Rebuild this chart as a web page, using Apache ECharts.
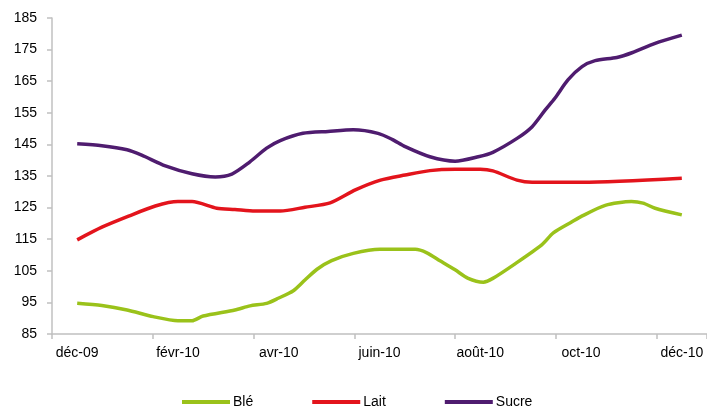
<!DOCTYPE html>
<html>
<head>
<meta charset="utf-8">
<script src="https://cdn.jsdelivr.net/npm/echarts@6/dist/echarts.min.js"></script>
<style>
html,body{margin:0;padding:0;background:#fff;}
#chart{width:707px;height:415px;}
</style>
</head>
<body>
<div id="chart"></div>
<script>
// Month labels (category axis, one per month)
const months = ['déc-09','janv-10','févr-10','mars-10','avr-10','mai-10','juin-10','juil-10','août-10','sept-10','oct-10','nov-10','déc-10'];
const seriesNames = ['Blé', 'Lait', 'Sucre'];
const yTicks = { min: 85, max: 185, step: 10 };

// [months since déc-09, index value]
const ble = [
  [0, 94.7], [0.49, 94.0], [0.99, 92.6], [1.51, 90.5], [2.0, 89.2], [2.28, 89.2], [2.5, 90.7],
  [3.13, 92.6], [3.43, 93.9], [3.76, 94.7], [3.99, 96.3], [4.29, 98.7], [4.52, 102.1], [4.76, 105.5],
  [5.05, 108.2], [5.48, 110.5], [6.01, 111.8], [6.71, 111.8], [6.94, 110.7], [7.2, 108.2], [7.5, 105.3],
  [7.76, 102.6], [8.06, 101.4], [8.25, 102.6], [8.69, 107.2], [9.22, 113.2], [9.45, 117.0], [9.82, 120.5],
  [9.98, 122.0], [10.48, 125.7], [11.0, 126.9], [11.23, 126.4], [11.47, 124.8], [12.0, 122.7]
];
const lait = [
  [0, 114.8], [0.49, 118.8], [1.02, 122.3], [1.55, 125.5], [2.0, 126.9], [2.28, 126.9], [2.77, 124.8],
  [3.13, 124.4], [3.53, 123.9], [4.03, 123.9], [4.52, 125.1], [5.02, 126.5], [5.52, 130.6], [6.02, 133.7],
  [6.51, 135.3], [7.0, 136.7], [7.5, 137.1], [8.0, 137.1], [8.25, 136.6], [8.73, 133.7], [9.03, 133.0],
  [9.68, 133.0], [10.02, 133.0], [12.0, 134.3]
];
const sucre = [
  [0, 145.2], [0.49, 144.6], [0.99, 143.3], [1.28, 141.6], [1.75, 138.2], [2.28, 135.7], [2.74, 134.7],
  [3.07, 135.6], [3.39, 139.0], [3.76, 143.8], [4.03, 146.2], [4.48, 148.5], [4.98, 149.1], [5.48, 149.6],
  [5.97, 148.5], [6.25, 146.6], [6.51, 144.3], [7.0, 141.1], [7.5, 139.7], [7.96, 141.1], [8.25, 142.5],
  [8.73, 146.9], [9.03, 150.6], [9.29, 155.9], [9.48, 159.6], [9.74, 165.4], [10.02, 169.6], [10.28, 171.5],
  [10.71, 172.5], [11.01, 174.0], [11.47, 177.0], [12.0, 179.6]
];

const colors = ['#9ac21a', '#e3141c', '#4f1c6f'];
const font = 'Liberation Sans, Arial, sans-serif';

const chart = echarts.init(document.getElementById('chart'), null, { renderer: 'canvas' });
chart.setOption({
  animation: false,
  backgroundColor: '#fff',
  color: colors,
  grid: { left: 52, right: 0, top: 18, bottom: 81, containLabel: false },
  legend: {
    data: seriesNames,
    left: 177,
    top: 390,
    icon: 'rect',
    itemWidth: 48,
    itemHeight: 4,
    itemGap: 59,
    textStyle: { fontFamily: font, fontSize: 14, color: '#000', padding: [0, 0, 0, -2] }
  },
  xAxis: [
    {
      type: 'value',
      min: -0.5,
      max: 12.5,
      show: false,
      position: 'bottom'
    },
    {
      type: 'category',
      data: months,
      boundaryGap: true,
      position: 'bottom',
      axisLine: { show: true, lineStyle: { color: '#c0c0c0', width: 1.5 } },
      axisTick: { show: true, interval: 1, length: 5, lineStyle: { color: '#c0c0c0', width: 1.5 } },
      axisLabel: { interval: 1, margin: 12, fontFamily: font, fontSize: 14, color: '#000' },
      splitLine: { show: false }
    }
  ],
  yAxis: {
    type: 'value',
    min: yTicks.min,
    max: yTicks.max,
    interval: yTicks.step,
    axisLine: { show: true, onZero: false, lineStyle: { color: '#c0c0c0', width: 1.5 } },
    axisTick: { show: true, length: 5, lineStyle: { color: '#c0c0c0', width: 1.5 } },
    axisLabel: { margin: 15, fontFamily: font, fontSize: 14, color: '#000' },
    splitLine: { show: false }
  },
  series: [
    { name: seriesNames[0], type: 'line', xAxisIndex: 0, data: ble, showSymbol: false, smooth: 0.25, lineStyle: { width: 3.5 } },
    { name: seriesNames[1], type: 'line', xAxisIndex: 0, data: lait, showSymbol: false, smooth: 0.25, lineStyle: { width: 3.5 } },
    { name: seriesNames[2], type: 'line', xAxisIndex: 0, data: sucre, showSymbol: false, smooth: 0.25, lineStyle: { width: 3.5 } }
  ]
});
</script>
</body>
</html>
